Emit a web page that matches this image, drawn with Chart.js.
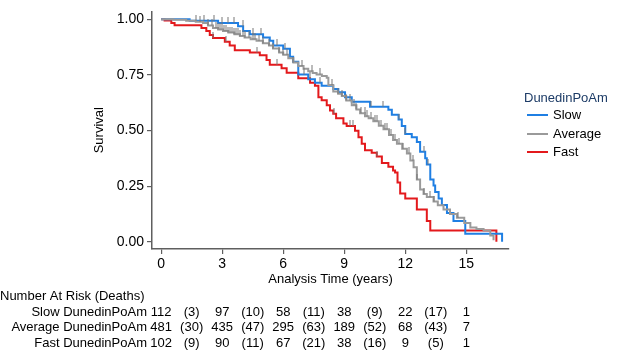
<!DOCTYPE html>
<html>
<head>
<meta charset="utf-8">
<script src="https://cdn.jsdelivr.net/npm/chart.js@4"></script>
<style>
  body { margin: 0; background: #fff; }
  #wrap { width: 617px; height: 351px; }
</style>
</head>
<body>
<div id="wrap"><canvas id="kmChart" width="617" height="351"></canvas></div>
<script>
// Kaplan-Meier step points (time in years, survival after the drop)
const slowTime = [0, 1.40, 2.80, 3.78, 4.03, 4.36, 5.01, 5.34, 5.51, 6.00, 6.33, 6.49, 6.74, 7.23, 7.56, 7.89, 8.46, 8.71, 9.04, 9.37, 10.27, 11.17, 11.34, 11.67, 11.83, 12.00, 12.32, 12.57, 12.73, 12.98, 13.06, 13.23, 13.39, 13.47, 13.64, 13.80, 14.05, 14.37, 14.95, 16.76];
const slowSurv = [1.0, 0.993, 0.983, 0.968, 0.947, 0.932, 0.918, 0.903, 0.882, 0.867, 0.831, 0.809, 0.752, 0.730, 0.715, 0.701, 0.687, 0.672, 0.650, 0.629, 0.607, 0.593, 0.571, 0.549, 0.520, 0.484, 0.470, 0.448, 0.405, 0.376, 0.347, 0.280, 0.253, 0.224, 0.195, 0.166, 0.130, 0.094, 0.036, 0.0];

const avgTime = [0, 0.6, 1.23, 1.7, 2.06, 2.3, 2.55, 2.8, 3.04, 3.3, 3.6, 3.87, 4.1, 4.4, 4.69, 5.0, 5.3, 5.5, 5.8, 6.0, 6.25, 6.5, 6.74, 7.0, 7.23, 7.45, 7.64, 7.9, 8.14, 8.22, 8.46, 8.7, 8.88, 9.1, 9.37, 9.6, 9.78, 10.02, 10.2, 10.43, 10.7, 10.93, 11.2, 11.4, 11.59, 11.85, 12.08, 12.25, 12.41, 12.57, 12.73, 12.9, 13.06, 13.39, 13.6, 13.88, 14.2, 14.54, 14.9, 15.2, 15.5, 15.85, 16.18, 16.34];
const avgSurv = [1.0, 0.997, 0.993, 0.988, 0.983, 0.972, 0.961, 0.954, 0.947, 0.940, 0.932, 0.925, 0.918, 0.910, 0.903, 0.892, 0.882, 0.868, 0.850, 0.840, 0.825, 0.805, 0.790, 0.778, 0.766, 0.758, 0.752, 0.745, 0.737, 0.705, 0.675, 0.665, 0.655, 0.635, 0.614, 0.595, 0.578, 0.564, 0.555, 0.542, 0.522, 0.506, 0.480, 0.458, 0.441, 0.418, 0.397, 0.365, 0.335, 0.280, 0.235, 0.215, 0.202, 0.181, 0.165, 0.145, 0.125, 0.108, 0.085, 0.065, 0.058, 0.051, 0.029, 0.007];

const fastTime = [0, 0.17, 0.50, 0.66, 1.98, 2.22, 2.39, 2.55, 3.13, 3.37, 3.62, 4.36, 4.85, 5.18, 5.34, 5.92, 6.17, 6.74, 7.32, 7.56, 7.73, 7.89, 8.14, 8.30, 8.46, 8.60, 8.96, 9.12, 9.53, 9.70, 9.86, 10.02, 10.35, 10.60, 10.85, 11.17, 11.40, 11.50, 11.62, 11.75, 12.00, 12.57, 13.06, 13.23, 16.48];
const fastSurv = [1.0, 0.994, 0.983, 0.973, 0.961, 0.947, 0.929, 0.915, 0.899, 0.882, 0.860, 0.850, 0.838, 0.817, 0.795, 0.780, 0.759, 0.735, 0.715, 0.701, 0.650, 0.636, 0.614, 0.590, 0.575, 0.555, 0.532, 0.520, 0.499, 0.470, 0.441, 0.412, 0.400, 0.383, 0.354, 0.337, 0.320, 0.311, 0.267, 0.217, 0.195, 0.145, 0.094, 0.051, 0.0];

// censoring times (tick marks)
const slowCensor = [1.7, 2.1, 2.6, 3.0, 3.3, 3.6, 4.0, 4.5, 4.9, 5.7, 6.1, 7.0, 7.8, 10.3, 10.9, 11.7, 12.0, 12.9, 13.1];
const avgCensor = [1.9, 2.3, 2.5, 2.7, 2.8, 2.9, 3.0, 3.1, 3.2, 3.3, 3.4, 3.5, 3.6, 3.7, 3.8, 3.9, 4.0, 4.1, 4.3, 4.5, 4.6, 4.8, 5.0, 5.3, 5.5, 5.8, 6.0, 6.2, 6.5, 6.9, 7.4, 7.8, 8.4, 8.7, 8.9, 9.1, 9.3, 9.5, 9.6, 9.8, 10.0, 10.1, 10.3, 10.5, 10.6, 10.8, 11.0, 11.1, 11.3, 11.5, 11.7, 11.9, 12.2, 12.4, 12.6, 12.9, 13.2, 13.4, 14.6];
const fastCensor = [2.55, 3.2, 4.7, 5.7, 7.3, 8.5, 9.3, 9.45, 10.6];

const groupNames = ['Slow', 'Average', 'Fast'];
const xTicks = [0, 3, 6, 9, 12, 15];
const yTicks = [0, 0.25, 0.5, 0.75, 1];

// number at risk table
const riskTimes = [0, 3, 6, 9, 12, 15];
const riskSlow = [112, 97, 58, 38, 22, 1];
const riskAvg = [481, 435, 295, 189, 68, 7];
const riskFast = [102, 90, 67, 38, 9, 1];
const deathsSlow = [3, 10, 11, 9, 17];
const deathsAvg = [30, 47, 63, 52, 43];
const deathsFast = [9, 11, 21, 16, 5];

const colors = ['#1f7fe3', '#9a9a9a', '#e3191c'];
const axisColor = '#5f5f5f';
const fontFamily = '"Liberation Sans", Arial, Helvetica, sans-serif';

function toPoints(times, surv) {
  return times.map((t, i) => ({ x: t, y: surv[i] }));
}

function survAt(times, surv, t) {
  let s = surv[0];
  for (let i = 0; i < times.length; i++) {
    if (times[i] <= t) s = surv[i];
  }
  return s;
}

// small vertical tick, drawn upward from the curve
function makeTick() {
  const c = document.createElement('canvas');
  c.width = 2;
  c.height = 12;
  const g = c.getContext('2d');
  g.fillStyle = '#787878';
  g.fillRect(0.5, 0, 1, 6);
  return c;
}
const tickImg = makeTick();

function censorSet(times, curveT, curveS) {
  return {
    type: 'scatter',
    data: times.map(t => ({ x: t, y: survAt(curveT, curveS, t) })),
    pointStyle: tickImg,
    showLine: false
  };
}

const extrasPlugin = {
  id: 'kmExtras',
  afterDraw: (chart) => {
    const ctx = chart.ctx;
    const area = chart.chartArea;
    const xs = chart.scales.x;
    ctx.save();
    ctx.fillStyle = '#000';
    ctx.font = '13px ' + fontFamily;

    // axis titles
    ctx.textAlign = 'center';
    ctx.textBaseline = 'middle';
    ctx.fillText('Analysis Time (years)', (area.left + area.right) / 2, 279);
    ctx.save();
    ctx.translate(99, (area.top + area.bottom) / 2);
    ctx.rotate(-Math.PI / 2);
    ctx.fillText('Survival', 0, 0);
    ctx.restore();

    // legend
    ctx.textAlign = 'left';
    ctx.fillStyle = '#1c3b66';
    ctx.fillText('DunedinPoAm', 524, 98);
    const legendY = [115, 134, 152];
    groupNames.forEach((name, i) => {
      ctx.strokeStyle = colors[i];
      ctx.lineWidth = 2;
      ctx.beginPath();
      ctx.moveTo(527, legendY[i]);
      ctx.lineTo(548, legendY[i]);
      ctx.stroke();
      ctx.fillStyle = '#000';
      ctx.fillText(name, 553, legendY[i]);
    });

    // number at risk table
    ctx.fillStyle = '#000';
    ctx.textAlign = 'left';
    ctx.fillText('Number At Risk (Deaths)', 0, 296);
    const rows = [
      [groupNames[0] + ' DunedinPoAm', riskSlow, deathsSlow],
      [groupNames[1] + ' DunedinPoAm', riskAvg, deathsAvg],
      [groupNames[2] + ' DunedinPoAm', riskFast, deathsFast]
    ];
    const rowY = [312, 327, 343];
    rows.forEach((row, r) => {
      ctx.textAlign = 'right';
      ctx.fillText(row[0], 147, rowY[r]);
      ctx.textAlign = 'center';
      row[1].forEach((n, i) => {
        ctx.fillText(String(n), xs.getPixelForValue(riskTimes[i]), rowY[r]);
      });
      row[2].forEach((d, i) => {
        const mid = (riskTimes[i] + riskTimes[i + 1]) / 2;
        ctx.fillText('(' + d + ')', xs.getPixelForValue(mid), rowY[r]);
      });
    });
    ctx.restore();
  }
};

const lineSets = [
  [slowTime, slowSurv],
  [avgTime, avgSurv],
  [fastTime, fastSurv]
].map((c, i) => ({
  type: 'line',
  label: groupNames[i],
  data: toPoints(c[0], c[1]),
  borderColor: colors[i],
  borderWidth: 2,
  stepped: 'before',
  pointRadius: 0,
  fill: false
}));

new Chart(document.getElementById('kmChart'), {
  type: 'line',
  data: {
    datasets: [
      censorSet(avgCensor, avgTime, avgSurv),
      censorSet(slowCensor, slowTime, slowSurv),
      censorSet(fastCensor, fastTime, fastSurv),
      lineSets[1], lineSets[0], lineSets[2]
    ]
  },
  options: {
    responsive: false,
    animation: false,
    layout: { padding: { top: 3, right: 108, left: 0, bottom: 0 } },
    plugins: {
      legend: { display: false },
      tooltip: { enabled: false }
    },
    scales: {
      x: {
        type: 'linear',
        min: -0.45,
        max: 17.1,
        afterBuildTicks: s => { s.ticks = xTicks.map(v => ({ value: v })); },
        afterFit: s => { s.height = 102; },
        grid: { drawOnChartArea: false, tickLength: 5, color: axisColor, lineWidth: 1.2 },
        border: { color: axisColor, width: 1.5 },
        ticks: { color: '#000', font: { family: fontFamily, size: 14 }, padding: 2, maxRotation: 0 }
      },
      y: {
        type: 'linear',
        min: -0.032,
        max: 1.035,
        afterBuildTicks: s => { s.ticks = yTicks.map(v => ({ value: v })); },
        afterFit: s => { s.width = 152; },
        grid: { drawOnChartArea: false, tickLength: 5, color: axisColor, lineWidth: 1.2 },
        border: { color: axisColor, width: 1.5 },
        ticks: { color: '#000', font: { family: fontFamily, size: 14 }, padding: 3, callback: v => v.toFixed(2) }
      }
    }
  },
  plugins: [extrasPlugin]
});
</script>
</body>
</html>
